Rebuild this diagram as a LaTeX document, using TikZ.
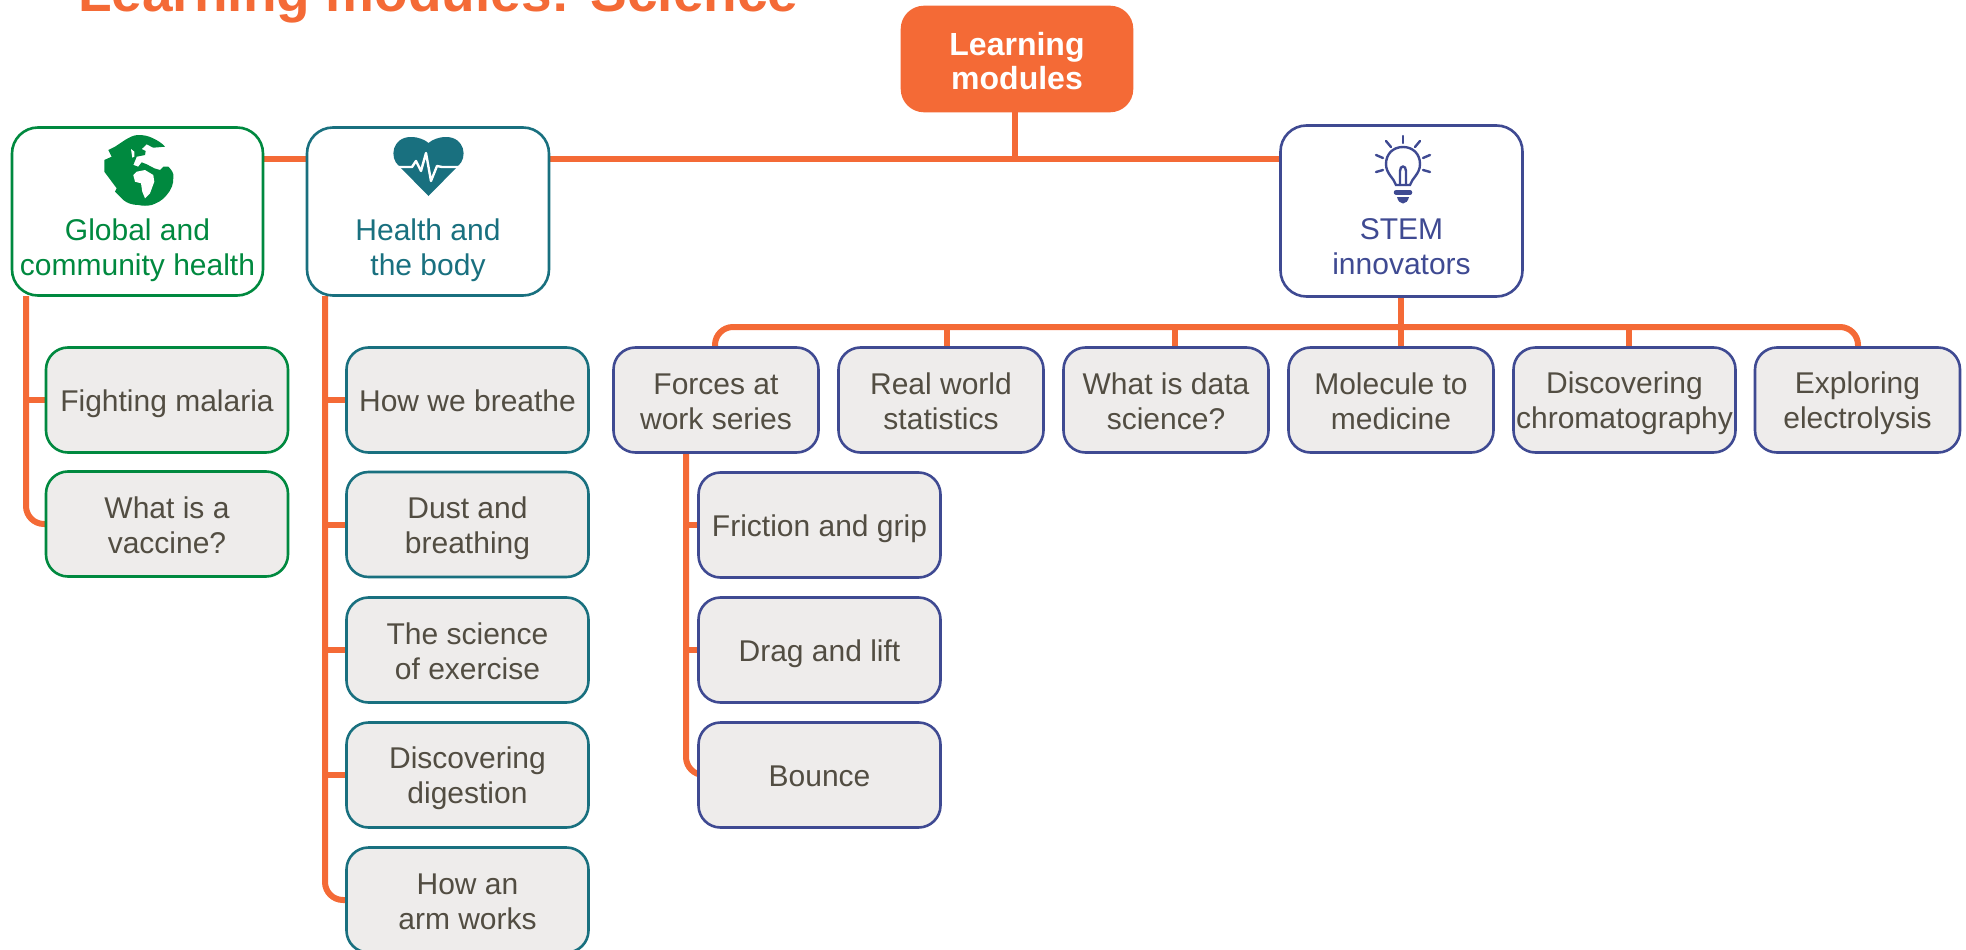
\documentclass[tikz,border=0pt]{standalone}
\usepackage{fontspec}
\usetikzlibrary{backgrounds}
\setmainfont{Liberation Sans}
\definecolor{modorange}{HTML}{F46A36}
\definecolor{modgreen}{HTML}{00893F}
\definecolor{modteal}{HTML}{19707F}
\definecolor{modindigo}{HTML}{3F4A92}
\definecolor{modgrey}{HTML}{EEECEB}
\definecolor{modtext}{HTML}{524D42}
\newcommand{\iconspace}{\rule{0pt}{63.5pt}\\}
\tikzset{
    link/.style={modorange, line width=6pt, rounded corners=18pt},
    box/.style={draw, rectangle, line width=2.6pt, rounded corners=22pt, inner sep=0pt, outer sep=0pt, align=center,
        font=\fontsize{30}{35}\selectfont, execute at end node=\rule[-6pt]{0pt}{6pt}},
    topbox/.style={box, fill=white, minimum height=168pt, rounded corners=26pt},
    subbox/.style={box, fill=modgrey, text=modtext, minimum width=242pt, minimum height=105pt},
    oneline/.style={subbox, execute at begin node=\rule{0pt}{29.5pt}},
    twoline/.style={subbox, execute at begin node=\rule{0pt}{64pt}},
    stembox/.style={twoline, draw=modindigo, minimum width=205pt}
}
\begin{document}
\begin{tikzpicture}[x=1pt, y=-1pt]
    \useasboundingbox (0, 0) rectangle (1966, 950);
    \clip (0, 0) rectangle (1966, 950);

    % Title
    \node[anchor=base west, inner sep=0pt, modorange] (title) at (78, 12) {\fontsize{55}{60}\selectfont\bfseries Learning modules: Science};

    % Root
    \node[box, draw=modorange, fill=modorange, text=white, minimum width=230pt, minimum height=104pt,
        font=\fontsize{32}{34}\selectfont\bfseries, execute at begin node=\rule{0pt}{67pt}] (root) at (1017, 59) {Learning\\modules};

    % Top level
    \node[topbox, draw=modgreen, text=modgreen, minimum width=251pt] (global) at (137.5, 211.5) {\iconspace Global and\\community health};
    \node[topbox, draw=modteal, text=modteal, minimum width=242pt] (health) at (428, 211.5) {\iconspace Health and\\the body};
    \node[topbox, draw=modindigo, text=modindigo, minimum width=242pt, minimum height=171pt] (stem) at (1401.5, 211) {\iconspace STEM\\innovators};

    % Global and community health modules
    \node[oneline, draw=modgreen] (malaria) at (167, 400) {Fighting malaria};
    \node[twoline, draw=modgreen] (vaccine) at (167, 524) {What is a\\vaccine?};

    % Health and the body modules
    \node[oneline, draw=modteal] (breathe) at (467.5, 400) {How we breathe};
    \node[twoline, draw=modteal] (dust) at (467.5, 524.5) {Dust and\\breathing};
    \node[twoline, draw=modteal] (exercise) at (467.5, 650) {The science\\of exercise};
    \node[twoline, draw=modteal] (digestion) at (467.5, 775) {Discovering\\digestion};
    \node[twoline, draw=modteal] (arm) at (467.5, 900) {How an\\arm works};

    % STEM innovators modules
    \node[stembox] (forces) at (716, 400) {Forces at\\work series};
    \node[stembox] (statistics) at (941, 400) {Real world\\statistics};
    \node[stembox] (data) at (1166, 400) {What is data\\science?};
    \node[stembox] (medicine) at (1391, 400) {Molecule to\\medicine};
    \node[stembox, minimum width=222pt] (chromatography) at (1624.5, 400) {Discovering\\chromatography};
    \node[stembox] (electrolysis) at (1857.5, 400) {Exploring\\electrolysis};

    % Forces at work modules
    \node[oneline, draw=modindigo] (friction) at (819.5, 525) {Friction and grip};
    \node[oneline, draw=modindigo] (drag) at (819.5, 650) {Drag and lift};
    \node[oneline, draw=modindigo] (bounce) at (819.5, 775) {Bounce};

    \begin{scope}[on background layer]
        % Bus lines
        \coordinate (bus) at (1015, 159);
        \coordinate (stembus) at (1401, 327);
        \coordinate (forcesdrop) at (715, 327);
        \coordinate (statisticsdrop) at (947, 327);
        \coordinate (datadrop) at (1175, 327);
        \coordinate (chromatographydrop) at (1629, 327);
        \coordinate (electrolysisdrop) at (1858, 327);
        \draw[link] (root.south -| bus) -- (bus);
        \draw[link] (global.east |- bus) -- (health.west |- bus);
        \draw[link] (health.east |- bus) -- (stem.west |- bus);
        \draw[link] (stem.south -| stembus) -- (stembus);
        \draw[link] (forces.north -| forcesdrop) |- (stembus);
        \draw[link] (electrolysis.north -| electrolysisdrop) |- (stembus);
        \draw[link] (statistics.north -| statisticsdrop) -- (statisticsdrop);
        \draw[link] (data.north -| datadrop) -- (datadrop);
        \draw[link] (medicine.north -| stembus) -- (stembus);
        \draw[link] (chromatography.north -| chromatographydrop) -- (chromatographydrop);

        % Global trunk
        \coordinate (globaltrunk) at (26, 296);
        \draw[link] (globaltrunk) |- (vaccine.west);
        \draw[link] (globaltrunk |- malaria.west) -- (malaria.west);

        % Health trunk
        \coordinate (healthtrunk) at (325, 296);
        \draw[link] (healthtrunk) |- (arm.west);
        \draw[link] (healthtrunk |- breathe.west) -- (breathe.west);
        \draw[link] (healthtrunk |- dust.west) -- (dust.west);
        \draw[link] (healthtrunk |- exercise.west) -- (exercise.west);
        \draw[link] (healthtrunk |- digestion.west) -- (digestion.west);

        % Forces trunk
        \coordinate (forcestrunk) at (686, 453);
        \draw[link] (forcestrunk) |- (bounce.west);
        \draw[link] (forcestrunk |- friction.west) -- (friction.west);
        \draw[link] (forcestrunk |- drag.west) -- (drag.west);
    \end{scope}

    % Globe icon
    \begin{scope}[shift={(139, 170)}]
        \fill[modgreen] (-14, -30) .. controls (-9, -33) and (-5, -35) .. (-0.7, -35) .. controls (5, -35) and (9, -34) .. (12.7, -32.3)
            .. controls (18, -30) and (23, -27) .. (26, -23.3) -- (14.3, -22.3) -- (7.7, -25.7) -- (2.7, -21) -- (6.7, -19) -- (6, -15)
            -- (-2.3, -13.3) -- (-5.7, -5) -- (-0.7, -3.3) -- (2.7, -7.7) -- (7.7, -5.7) -- (15.3, -1.7) -- (21, 0) -- (24.3, -3.3) -- (29.3, -3.3)
            .. controls (33, 0) and (35, 4) .. (34.3, 6.7) .. controls (35, 14) and (32, 20) .. (27.7, 25)
            .. controls (23, 31) and (18, 33) .. (12.7, 35) .. controls (8, 36) and (4, 36) .. (-0.7, 35)
            .. controls (-7, 35) and (-12, 33) .. (-15.7, 30) -- (-24, 21.7) -- (-22.3, 18.3) -- (-34.7, 1.7) -- (-34.7, -10)
            -- (-27.3, -13.3) -- (-30.7, -20) -- (-24, -23.3) -- cycle;
        \fill[white] (-5.7, 5) -- (-2.3, 1.7) -- (6, 0) -- (14.3, 5) -- (15.3, 11.7) -- (11, 23.3) -- (6, 28.3) -- (3.3, 21.7) -- (2, 13.3) -- (-4, 11.7) -- cycle;
        \fill[white] (-8, -21) -- (-4.7, -18.3) -- (-4.7, -13.3) -- (-6.7, -12.3) -- cycle;
    \end{scope}

    % Heart icon
    \fill[modteal] (428.5, 196) -- (399, 166) .. controls (389, 158) and (392, 137) .. (411, 137)
        .. controls (419, 137) and (425, 140) .. (428.5, 143) .. controls (432, 140) and (438, 137) .. (446, 137)
        .. controls (465, 137) and (468, 158) .. (458, 166) -- cycle;
    \draw[white, line width=2.4pt, line join=round] (390, 167) -- (412, 167) -- (416, 161) -- (421, 171) -- (426, 153) -- (431, 181) -- (437, 166) -- (442, 167) -- (468, 167);

    % Bulb icon
    \begin{scope}[modindigo, line width=2.4pt, line cap=round]
        \draw (1396, 185) .. controls (1394, 178) and (1386, 174) .. (1386, 164)
            .. controls (1386, 154) and (1393, 147) .. (1403, 147)
            .. controls (1413, 147) and (1420, 154) .. (1420, 164)
            .. controls (1420, 174) and (1412, 178) .. (1410, 185) -- cycle;
        \draw (1400, 185) -- (1400, 171) .. controls (1400, 165) and (1406, 165) .. (1406, 171) -- (1406, 185);
        \draw[line width=4.5pt] (1396, 192.5) -- (1410, 192.5);
        \fill (1397, 197) -- (1409, 197) .. controls (1408, 201) and (1406, 203.5) .. (1403, 203.5) .. controls (1400, 203.5) and (1398, 201) .. (1397, 197) -- cycle;
        \draw (1403, 136) -- (1403, 143);
        \draw (1386, 141) -- (1391, 147);
        \draw (1420, 141) -- (1415, 147);
        \draw (1376, 155) -- (1383, 158);
        \draw (1430, 155) -- (1423, 158);
        \draw (1376, 172) -- (1383, 170);
        \draw (1430, 172) -- (1423, 170);
    \end{scope}

\end{tikzpicture}
\end{document}
